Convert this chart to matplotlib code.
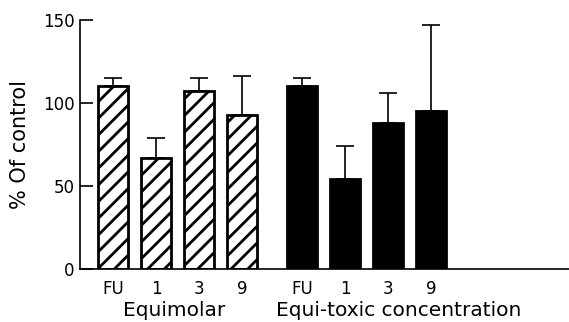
import matplotlib.pyplot as plt

plt.rcParams['font.family'] = ['DejaVu Sans']
plt.rcParams['hatch.linewidth'] = 2.0

labels = ["FU", "1", "3", "9", "FU", "1", "3", "9"]
equimolar = [110, 67, 107, 93]
equimolar_err = [5, 12, 8, 23]
equitoxic = [110, 54, 88, 95]
equitoxic_err = [5, 20, 18, 52]
groups = ["Equimolar", "Equi-toxic concentration"]

pos_a = [0, 1, 2, 3]
pos_b = [4.4, 5.4, 6.4, 7.4]


def main():
    fig = plt.figure(figsize=(5.69, 3.22), dpi=100)
    ax = fig.add_axes([80 / 569, 1 - 269 / 322, 1 - 80 / 569, (269 - 20) / 322])

    err_style = dict(ecolor="black", elinewidth=1.2, capsize=6.5, capthick=1.2)
    ax.bar(pos_a, equimolar, width=0.7, color="white", edgecolor="black",
           linewidth=2, hatch="//",
           yerr=[[0] * 4, equimolar_err], error_kw=err_style)
    ax.bar(pos_b, equitoxic, width=0.7, color="black", edgecolor="black",
           linewidth=2,
           yerr=[[0] * 4, equitoxic_err], error_kw=err_style)

    ax.set_xlim(-0.77, 10.6)
    ax.set_ylim(0, 150)
    ax.set_yticks([0, 50, 100, 150])
    ax.tick_params(axis="y", direction="in", length=9, width=1.2,
                   labelsize=12, pad=4)
    ax.set_xticks(pos_a + pos_b)
    ax.set_xticklabels(labels)
    ax.tick_params(axis="x", length=0, labelsize=12, pad=8)

    for s in ["top", "right"]:
        ax.spines[s].set_visible(False)
    ax.spines["left"].set_linewidth(1.2)
    ax.spines["bottom"].set_linewidth(1.2)

    ax.set_ylabel("% Of control", fontsize=15, va="center")
    ax.yaxis.set_label_coords((20 - 80) / 489, 0.5)
    ax.text(1.42, -28.3, groups[0], ha="center", va="baseline", fontsize=14.5,
            clip_on=False)
    ax.text(6.65, -28.3, groups[1], ha="center", va="baseline", fontsize=14.5,
            clip_on=False)

    fig.savefig("out.png", dpi=100)


if __name__ == "__main__":
    main()
